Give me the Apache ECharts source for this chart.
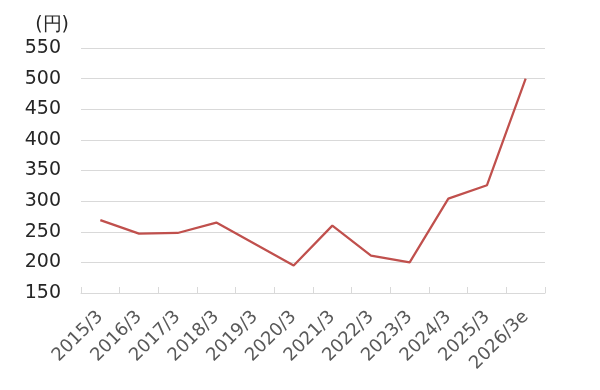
<!DOCTYPE html>
<html>
<head>
<meta charset="utf-8">
<script src="https://cdn.jsdelivr.net/npm/echarts@6/dist/echarts.min.js"></script>
<style>
html,body{margin:0;padding:0;background:#fff;}
#chart{width:600px;height:390px;}
</style>
</head>
<body>
<div id="chart"></div>
<script>
const categories = ['2015/3','2016/3','2017/3','2018/3','2019/3','2020/3','2021/3','2022/3','2023/3','2024/3','2025/3','2026/3e'];
const values = [269, 247, 248, 265, 230, 195, 260, 211, 200, 304, 326, 500];
const yUnit = '(円)';

const chart = echarts.init(document.getElementById('chart'), null, {renderer:'canvas'});
const font = '"DejaVu Sans", Verdana, sans-serif';
chart.setOption({
  animation: false,
  grid: {left: 81, right: 55, top: 48, bottom: 97},
  xAxis: {
    type: 'category',
    data: categories,
    boundaryGap: true,
    axisLine: {lineStyle: {color: '#d9d9d9', width: 1}},
    axisTick: {show: true, inside: true, length: 6, lineStyle: {color: '#d9d9d9'}},
    axisLabel: {rotate: 45, interval: 0, margin: 21, color: '#595959', fontSize: 18, fontFamily: font}
  },
  yAxis: {
    type: 'value',
    min: 150, max: 550, interval: 50,
    name: yUnit,
    nameLocation: 'end',
    nameGap: 13,
    nameTextStyle: {color: '#262626', fontSize: 19, fontFamily: font, align: 'right', padding: [0, 12, 0, 0]},
    axisLine: {show: false},
    axisTick: {show: false},
    splitLine: {lineStyle: {color: '#d9d9d9', width: 1}},
    axisLabel: {margin: 20, color: '#262626', fontSize: 19, fontFamily: font}
  },
  series: [{
    type: 'line',
    data: values,
    symbol: 'none',
    lineStyle: {color: '#c0504d', width: 2.25},
    itemStyle: {color: '#c0504d'}
  }]
});
</script>
</body>
</html>
